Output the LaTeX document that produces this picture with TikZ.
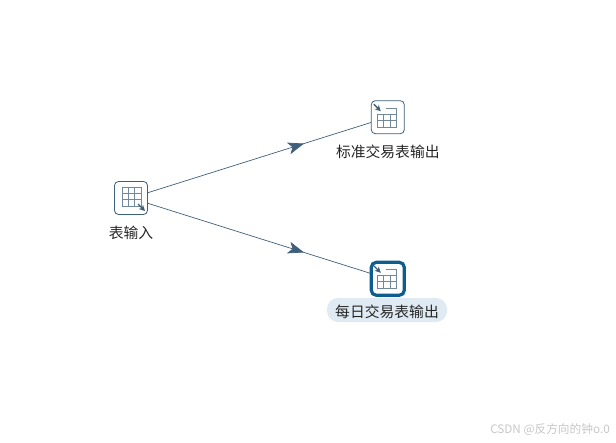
\documentclass[tikz,border=0pt]{standalone}
\usepackage{fontspec}
\setmainfont{Noto Sans CJK SC}
\usetikzlibrary{
  arrows.meta,
  positioning,
  decorations.markings,
}
\definecolor{flowblue}{HTML}{3F5F7A}
\definecolor{iconblue}{HTML}{3E5F78}
\definecolor{gridgray}{HTML}{71899B}
\definecolor{pickblue}{HTML}{0F5C8E}
\definecolor{pillblue}{HTML}{DFEAF3}
\tikzset{
  stepbox/.style={draw=iconblue, fill=white, line width=0.8pt, rounded corners=4pt,
    minimum size=33pt, inner sep=0pt},
  picked/.style={draw=pickblue, line width=3.2pt, rounded corners=5pt, minimum size=33pt},
  steplabel/.style={font=\fontsize{14.8pt}{16pt}\selectfont, text=black!85, inner sep=0pt},
  pill/.style={fill=pillblue, rounded corners=11pt, minimum width=120pt, minimum height=24pt},
  flow/.style={draw=flowblue, line width=0.7pt, postaction={decorate}, decoration={markings,
    mark=at position 0.70 with {\arrow[flowblue]{Stealth[length=16pt,width=12pt,inset=4pt]}}}},
  griddraw/.style={draw=gridgray, line width=0.8pt},
  pics/tablein/.style={code={
    \draw[griddraw] (-9,-11) rectangle (10,8);
    \draw[griddraw] (-9,-5) -- (10,-5);
    \foreach \gx in {-3,3} \draw[griddraw] (\gx,-11) -- (\gx,8);
    \draw[griddraw] (-9,1) -- (10,1);
    \draw[iconblue, line width=1.4pt, -{Stealth[length=6pt,width=6pt]}] (7,6) -- (14,13);
  }},
  pics/tableout/.style={code={
    \draw[griddraw] (-2,-9) -- (9,-9) -- (9,-3);
    \draw[griddraw] (-10,-3) rectangle (9,10);
    \foreach \gx in {-4,3} \draw[griddraw] (\gx,-3) -- (\gx,10);
    \draw[griddraw] (-10,3) -- (9,3);
    \draw[iconblue, line width=1.4pt, -{Stealth[length=6pt,width=6pt]}] (-14,-13) -- (-7,-6);
  }},
}
\begin{document}
\begin{tikzpicture}[x=1pt, y=-1pt]
  \useasboundingbox (0,0) rectangle (616,442);
  \node[stepbox] (input) at (131,198) {};
  \node[stepbox] (stdout) [above right = 47pt and 223pt of input] {};
  \node[stepbox] (dayout) [below right = 47pt and 223pt of input] {};

  \node[steplabel] (inputlabel) [below = 10.5pt of input] {表输入};
  \node[steplabel] (stdlabel) [below = 10.5pt of stdout] {标准交易表输出};
  \node[pill] (daypill) at (387,310) {};
  \node[steplabel] (daylabel) [yshift=-1.5pt] at (daypill) {每日交易表输出};

  \draw[flow] (input) -- (stdout);
  \draw[flow] (input) -- (dayout);

  \node[picked] (daypick) at (dayout) {};
  \pic at (input) {tablein};
  \pic at (stdout) {tableout};
  \pic at (dayout) {tableout};

  \node[anchor=east, inner sep=0pt, text=black!22, font=\fontsize{11.7pt}{13pt}\selectfont] (mark)
    at (610,430) {CSDN @反方向的钟o.0};
\end{tikzpicture}
\end{document}
